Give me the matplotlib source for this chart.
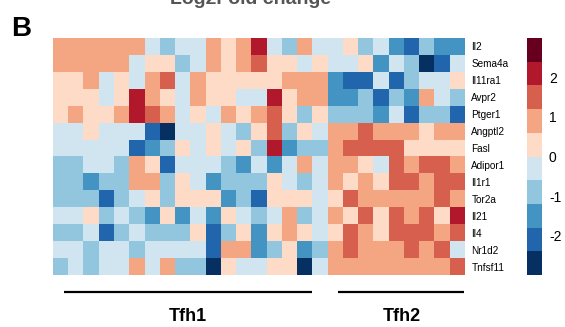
import numpy as np
import matplotlib
matplotlib.use("Agg")
import matplotlib.pyplot as plt
from matplotlib.colors import ListedColormap, BoundaryNorm

plt.rcParams['font.family'] = ['Liberation Sans', 'DejaVu Sans']
plt.rcParams['axes.unicode_minus'] = False

genes = ['Il2', 'Sema4a', 'Il11ra1', 'Avpr2', 'Ptger1', 'Angptl2', 'Fasl',
         'Adipor1', 'Il1r1', 'Tor2a', 'Il21', 'Il4', 'Nr1d2', 'Tnfsf11']
groups = ['Tfh1', 'Tfh2']
group_sizes = [18, 9]

# log2 fold change (z-scored), rows = genes, cols = samples (18 Tfh1 + 9 Tfh2)
lfc = [
    [.9,.9,.9,.9,.9,.9,-.3,-.9,-.3, -.3,.9,.3,.9,2.1,-.3,-.9,.9,-.3, -.3,.3,-.9,-.3,-1.5,-2.1,-.9,-1.5,-1.5],
    [.9,.9,.9,.9,.9,-.3,.3,.3,-.9, -.3,.9,.3,.9,1.5,.3,.3,-.3,.3, -.3,-.3,.3,-1.5,-.3,-.9,-2.7,-2.1,-.3],
    [.3,.3,.9,-.3,.3,-.3,.9,1.5,-.3, .9,.3,.3,.3,.3,.3,.9,.9,.9, -1.5,-2.1,-2.1,-.3,-2.1,-.9,-.3,-.3,.3],
    [.3,.3,.3,-.3,.3,2.1,.9,.3,-.3, .9,.3,.3,-.3,-.3,2.1,.3,.9,.9, -1.5,-1.5,-.9,-2.1,-.9,-1.5,.9,-.3,-.9],
    [.3,.9,.3,.3,.9,2.1,1.5,.9,-.3, .3,-.3,.9,.3,.9,1.5,.3,-.9,.3, -.9,-.9,-.9,-1.5,-.3,-2.1,-.9,-.9,-2.1],
    [-.3,-.3,.3,-.3,-.3,-.3,-2.1,-2.7,-.3, -.3,.3,-.3,-.9,.3,1.5,-.9,.3,-.3, .9,.9,1.5,.9,.9,.9,.3,.9,.9],
    [-.3,-.3,-.3,-.3,-.3,-2.1,-1.5,-.9,.3, -.3,.3,-.3,.3,-.9,2.1,-1.5,-.9,-.9, .9,1.5,1.5,1.5,1.5,.3,.3,.3,.3],
    [-.9,-.9,-.3,-.3,-.9,.9,.3,-2.1,-.3, -.3,-.3,-.9,-1.5,-.3,-1.5,-.3,.9,-.3, .9,.9,.3,-.3,1.5,.9,1.5,1.5,.9],
    [-.9,-.9,-1.5,-.9,-.9,.9,.9,-.9,.3, -.3,-1.5,-.9,-.9,-.9,.3,-.3,-.9,-.3, .9,.3,.9,.3,1.5,1.5,.9,1.5,1.5],
    [-.9,-.9,-.9,-2.1,-.9,-.3,.3,-.9,.3, .3,.3,-1.5,-.9,-2.1,.3,.3,.3,-.3, .3,1.5,.9,.9,.9,.9,.9,1.5,.9],
    [-.3,-.3,.3,-.9,-.3,-.9,-1.5,.3,-1.5, -.3,-1.5,.3,-.3,-.9,-.3,.9,-.9,-.3, .9,.3,1.5,.3,1.5,.9,1.5,.3,2.1],
    [-.9,-.9,-.3,-2.1,-.9,-.3,-.9,-.9,-.9, .3,-2.1,-.9,.3,-1.5,.3,.9,.3,-.3, .3,1.5,.9,.3,1.5,1.5,1.5,.9,1.5],
    [-.3,-.3,-.9,-.3,-.3,-.9,-.3,-.3,-.3, -.3,-2.1,.9,.9,-1.5,-.9,.3,-1.5,-.9, .9,1.5,.9,.9,.9,1.5,.9,1.5,-.3],
    [-.9,-.3,-.9,-.3,-.3,.9,-.3,.9,-.9, -.9,-2.7,.3,-.3,-.3,.3,.3,-2.7,-.3, .9,.9,.9,.9,.9,.9,.9,.9,1.5],
]

colors = ['#053061', '#2166ac', '#4393c3', '#92c5de', '#d1e5f0',
          '#fddbc7', '#f4a582', '#d6604d', '#b2182b', '#67001f']
cmap = ListedColormap(colors)
norm = BoundaryNorm(np.linspace(-3, 3, 11), cmap.N)

W, H = 565, 327
fig = plt.figure(figsize=(W / 100, H / 100), dpi=100)

ax = fig.add_axes([53.3 / W, (H - 275) / H, (465 - 53.3) / W, (275 - 38) / H])
im = ax.imshow(np.array(lfc), cmap=cmap, norm=norm, aspect='auto', interpolation='nearest')
ax.set_xticks([])
ax.yaxis.tick_right()
ax.set_yticks(range(len(genes)))
ax.set_yticklabels(genes, fontsize=7.2)
ax.tick_params(axis='y', length=0, pad=4.5)
for s in ax.spines.values():
    s.set_visible(False)

# group bars + labels under heatmap
trans = ax.get_xaxis_transform()
start = -0.5
for g, n in zip(groups, group_sizes):
    if g == 'Tfh1':
        x0, x1 = start + 0.7, start + n - 1.05
    else:
        x0, x1 = start + 0.7, start + n - 0.05
    ax.plot([x0, x1], [-0.0705, -0.0705], color='black', lw=1.6,
            transform=trans, clip_on=False, solid_capstyle='butt')
    ax.text((x0 + x1) / 2, -0.176, g, transform=trans, ha='center', va='center',
            fontsize=13, fontweight='bold')
    start += n

cax = fig.add_axes([527 / W, (H - 275) / H, 15 / W, (275 - 38) / H])
cb = fig.colorbar(im, cax=cax, ticks=[-2, -1, 0, 1, 2])
cb.outline.set_visible(False)
cax.minorticks_off()
cax.tick_params(which='both', length=0, pad=5, labelsize=10)

fig.text(251 / W, 1 - 4 / H, 'Log2Fold change', ha='center', va='baseline',
         fontsize=14, fontweight='bold', color='#555555')
fig.text(11 / W, 1 - 36 / H, 'B', ha='left', va='baseline', fontsize=20, fontweight='bold')

fig.savefig('out.png', dpi=100)
